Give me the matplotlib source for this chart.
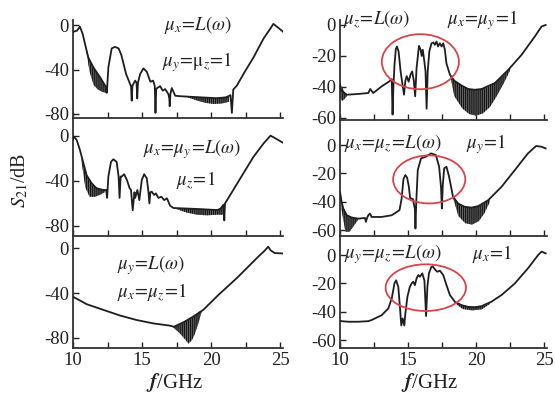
import matplotlib
matplotlib.use('Agg')
import matplotlib.pyplot as plt
from matplotlib.patches import Ellipse

plt.rcParams['font.family'] = ['Liberation Serif', 'DejaVu Serif']
plt.rcParams['mathtext.fontset'] = 'stix'
plt.rcParams['axes.unicode_minus'] = False
plt.rcParams['hatch.linewidth'] = 0.9

# ---- data (f in GHz, S21 in dB) ----
LT_f = [10.05, 10.3, 10.5, 10.7, 10.87, 11.1, 11.47, 11.96, 12.4, 12.45, 12.56, 12.8, 13.04, 13.3,
        13.5, 13.84, 14.13, 14.2, 14.25, 14.3, 14.37, 14.5, 14.6, 14.65, 14.7, 14.86, 15.1, 15.34,
        15.6, 15.8, 15.92, 15.97, 16.02, 16.06, 16.3, 16.5, 16.67, 16.9, 16.97, 17.0, 17.05, 17.15,
        17.4, 17.75, 19.2, 20.4, 21.1, 21.4, 21.5, 21.6, 21.86, 22.34, 23.07, 23.8, 24.3, 24.5,
        24.76, 25.2]
LT_s = [-6, -5, -1.5, -8, -17, -29, -38, -47, -56, -61, -38, -21, -19.7, -21,
        -27, -44, -53, -55, -68, -55, -53, -50, -52, -66, -52, -44, -39, -42,
        -51, -50, -55, -79, -58, -57, -55, -59, -57.6, -62, -66, -73, -62, -56.7,
        -63.6, -64, -65, -65.8, -65, -63, -79, -58, -54.5, -44, -29, -12, -3, 1,
        -1.5, -6]
LT_band = [([10.95, 11.2, 11.5, 11.8, 12.1, 12.4],
            [-20, -32, -39, -44, -50, -56],
            [-22, -42, -54, -58, -60, -61]),
           ([18.3, 19.0, 19.6, 20.2, 20.8, 21.3],
            [-64.6, -65, -65.4, -65.7, -65.3, -64],
            [-65, -68, -70, -71, -70.5, -69])]

LM_f = [10.0, 10.07, 10.27, 10.5, 10.75, 10.99, 11.35, 11.7, 12.2, 12.4, 12.47, 12.56, 12.75, 12.92,
        13.16, 13.3, 13.37, 13.45, 13.53, 13.7, 13.9, 14.1, 14.2, 14.32, 14.45, 14.5, 14.66, 14.8,
        14.98, 15.15, 15.34, 15.46, 15.53, 15.6, 15.7, 15.87, 16.0, 16.18, 16.4, 16.6, 16.8, 17.03,
        17.27, 19.2, 20.4, 20.65, 20.9, 20.95, 21.0, 21.1, 21.6, 22.34, 23.07, 23.8, 24.3, 24.64, 25.2]
LM_s = [-3, -0.6, -3.6, -12.4, -24, -35, -42, -46.5, -48, -48, -55, -36, -23, -20.7,
        -23, -36, -55, -36, -36, -34, -39, -46.5, -48, -66, -50, -55, -48, -57,
        -39, -34, -37.6, -49.5, -60, -50, -49.5, -52.4, -51, -55, -54, -57, -55.4, -62,
        -64, -65, -65.8, -65, -61, -75, -60, -58, -48, -33, -18.4, -6.5, 0.3, -2, -6]
LM_band = [([10.6, 10.9, 11.2, 11.6, 12.0, 12.3],
            [-19, -31, -40, -45, -47.5, -48],
            [-21, -46, -54, -54, -52, -50]),
           ([17.4, 18.2, 19.0, 19.7, 20.4, 20.85],
            [-64, -64.7, -65, -65.3, -65.8, -63],
            [-64.5, -68, -70, -70.5, -70, -70])]

LB_f = [10.0, 11.0, 12.2, 13.4, 14.6, 15.8, 17.0, 17.3, 18.0, 18.7, 19.43, 20.5, 21.86, 23.3,
        23.9, 24.13, 24.3, 24.6, 25.2]
LB_s = [-43.3, -50, -55, -60, -64, -67, -69, -70, -66, -61, -55, -42, -26.7, -9,
        -2, 1.2, -2, -4.5, -4.8]
LB_band = [([17.25, 17.7, 18.1, 18.36, 18.6, 18.8, 19.1, 19.3],
            [-70, -68.5, -65.5, -63.5, -62, -60.5, -57, -55.5],
            [-70.5, -75.5, -81, -85, -82, -77, -66, -57])]

RT_f = [10.0, 10.05, 10.5, 11.34, 12.08, 12.22, 12.44, 13.06, 13.6, 13.8, 13.86, 13.92, 14.0, 14.1,
        14.18, 14.3, 14.45, 14.56, 14.7, 14.8, 14.9, 15.04, 15.18, 15.3, 15.42, 15.52, 15.62, 15.8,
        15.92, 16.0, 16.08, 16.2, 16.28, 16.36, 16.44, 16.56, 16.72, 16.85, 16.97, 17.09, 17.2,
        17.33, 17.46, 17.58, 17.7, 17.82, 18.07, 18.4, 18.92, 19.4, 19.9, 20.4, 21.37, 22.35, 23.33,
        24.3, 24.8, 25.1]
RT_s = [-38, -42, -45, -44.5, -43.9, -41.3, -43.9, -39.6, -36.5, -35, -57.8, -40, -26, -15.5,
        -13.9, -17, -30, -36.6, -45, -36, -33, -36.6, -32, -30, -36, -46, -28, -13.5,
        -16, -20, -16, -24, -30, -54, -30, -17, -11.8, -11.3, -12.8, -10.7, -13.9,
        -11.8, -13.9, -11.8, -16, -25, -32, -36, -39, -41.3, -41.8, -41.3, -37.5, -29, -19.3,
        -7.5, -1, 0]
RT_band = [([10.0, 10.15, 10.3, 10.5],
            [-38, -40, -43, -45],
            [-47, -49, -48, -46]),
           ([18.1, 18.4, 19.0, 19.5, 20.0, 20.5, 21.0, 21.5, 22.0, 22.5],
            [-32.3, -36, -39.3, -41.2, -41.8, -41.3, -39.5, -36.5, -32.8, -27.8],
            [-33, -46, -54, -57.5, -58.5, -57, -53, -46, -38, -29])]

RM_f = [10.0, 10.12, 10.24, 10.5, 10.86, 11.34, 11.83, 11.9, 12.0, 12.08, 12.2, 12.32, 13.06, 13.8,
        14.37, 14.52, 14.66, 14.8, 14.93, 15.05, 15.15, 15.35, 15.5, 15.54, 15.6, 15.71, 15.95,
        16.31, 16.68, 17.04, 17.28, 17.42, 17.48, 17.55, 17.65, 17.82, 18.01, 18.3, 18.68, 19.17,
        19.66, 20.15, 20.88, 21.86, 22.84, 23.8, 24.4, 24.8, 25.1]
RM_s = [-33, -40, -44.7, -49.4, -51, -51.8, -51.3, -54, -51, -49.4, -48.2, -50.6, -50.6, -49.4,
        -45.8, -38, -24, -21.1, -23, -29, -37.3, -38, -45, -58.7, -40, -17.6, -9.4,
        -8.2, -5.9, -7, -15.3, -30, -44.6, -28, -16.4, -15.3, -22.3, -36.4, -41.2, -43.5,
        -44, -43, -38.8, -29.4, -17.6, -5.9, -0.7, -1.2, -2.4]
RM_band = [([10.1, 10.4, 10.7, 11.0, 11.3],
            [-39, -48, -50.5, -51.4, -51.8],
            [-45, -61, -61, -57, -53]),
           ([18.3, 18.7, 19.2, 19.7, 20.2, 20.6, 21.0],
            [-36.4, -41.2, -43.5, -44, -43, -41, -37.5],
            [-37, -50, -55, -56, -53.5, -48, -40])]

RB_f = [10.0, 10.6, 11.34, 12.08, 12.3, 13.06, 13.55, 13.8, 14.0, 14.12, 14.28, 14.4, 14.5, 14.6,
        14.72, 14.8, 14.95, 15.13, 15.26, 15.38, 15.5, 15.62, 15.75, 15.87, 16.04, 16.2, 16.32,
        16.42, 16.53, 16.7, 16.8, 16.97, 17.14, 17.33, 17.58, 17.82, 18.07, 18.44, 18.92, 19.4,
        19.9, 20.4, 21.1, 21.86, 22.84, 23.8, 24.55, 24.8, 25.1]
RB_s = [-46.5, -47, -47, -46.6, -45.9, -42.4, -37.6, -30.6, -20, -17.8, -22.4, -36.5, -49.6, -44.7,
        -49.6, -41.2, -29.4, -22.4, -20, -18.8, -21.2, -16.5, -14.1, -15.3, -12.9, -18, -43,
        -22, -13, -8.5, -8, -10.1, -11.8, -11, -14.1, -21.2, -28.2, -33, -35.3, -36.5,
        -36.8, -36, -33, -28.2, -20, -9.4, 0, 2.4, 1.2]
RB_band = [([18.4, 19.0, 19.7, 20.4, 21.0],
            [-32.7, -35.4, -36.6, -36, -33.2],
            [-33.5, -38, -39, -38.3, -34.5])]

x_ticks = [10, 12.5, 15, 17.5, 20, 22.5, 25]
x_labels = ['10', '', '15', '', '20', '', '25']
left_yticks = [0, -40, -80]
right_yticks = [0, -20, -40, -60]

# ellipses: (centre f, centre dB, width GHz, height dB)
RT_ell = (15.9, -23.7, 5.66, 35.5)
RM_ell = (16.55, -24.2, 5.3, 33.8)
RB_ell = (16.3, -23.0, 5.9, 32.9)

W, H = 555, 397
fig = plt.figure(figsize=(W / 100, H / 100), dpi=100)


def px_rect(x0, x1, ytop, ybot):
    return [x0 / W, 1 - ybot / H, (x1 - x0) / W, (ybot - ytop) / H]


panels = [
    # f, s, bands, rect, ylim, yticks, bottom labels, ellipse
    (LT_f, LT_s, LT_band, px_rect(73, 283, 20, 118), (-83.6, 4.5), left_yticks, False, None),
    (LM_f, LM_s, LM_band, px_rect(73, 283, 118, 236), (-88.9, 16), left_yticks, False, None),
    (LB_f, LB_s, LB_band, px_rect(73, 283, 236, 348), (-88.9, 10.7), left_yticks, True, None),
    (RT_f, RT_s, RT_band, px_rect(340, 547, 20, 120), (-61.3, 3.2), right_yticks, False, RT_ell),
    (RM_f, RM_s, RM_band, px_rect(340, 547, 120, 236), (-64, 17.6), right_yticks, False, RM_ell),
    (RB_f, RB_s, RB_band, px_rect(340, 547, 236, 348), (-65.5, 13.4), right_yticks, True, RB_ell),
]

line_c = '#1e1e1e'
for f, s, bands, rect, ylim, yt, lab, ell in panels:
    ax = fig.add_axes(rect)
    ax.set_facecolor('none')
    for bf, bt, bb in bands:
        # dense ripple drawn as a hatched band
        ax.fill_between(bf, bt, bb, facecolor='#6e6e6e', edgecolor='#151515',
                        hatch='||||||||', lw=0.0, zorder=2)
    ax.plot(f, s, color=line_c, lw=1.3, zorder=3)
    if ell is not None:
        ax.add_patch(Ellipse((ell[0], ell[1]), ell[2], ell[3], fill=False,
                             edgecolor='#d9444a', lw=1.3, zorder=4))
    ax.set_xlim(10, 25.2)
    ax.set_ylim(*ylim)
    ax.set_xticks(x_ticks)
    ax.set_xticklabels(x_labels)
    ax.set_yticks(yt)
    ax.set_yticklabels([str(v) for v in yt])
    ax.tick_params(direction='in', length=4, width=1, labelsize=13.5, pad=3,
                   colors='#222222', labelbottom=lab)
    for side in ('top', 'right'):
        ax.spines[side].set_visible(False)
    for side in ('left', 'bottom'):
        ax.spines[side].set_linewidth(1.3)
        ax.spines[side].set_color('#333333')

# annotations (pixel positions)
notes = [
    (198, 25, r'$\mu_x\!=\!L(\omega)$'),
    (197, 62, r'$\mu_y\!=\!\mathrm{\mu}_z\!=\!1$'),
    (192, 149, r'$\mu_x\!=\!\mu_y\!=\!L(\omega)$'),
    (196, 181, r'$\mu_z\!=\!1$'),
    (151, 265, r'$\mu_y\!=\!L(\omega)$'),
    (152, 293, r'$\mu_x\!=\!\mu_z\!=\!1$'),
    (377, 20, r'$\mu_z\!=\!L(\omega)$'),
    (482, 20, r'$\mu_x\!=\!\mu_y\!=\!1$'),
    (393, 144, r'$\mu_x\!=\!\mu_z\!=\!L(\omega)$'),
    (486, 144, r'$\mu_y\!=\!1$'),
    (393, 254, r'$\mu_y\!=\!\mu_z\!=\!L(\omega)$'),
    (492, 254, r'$\mu_x\!=\!1$'),
]
for x, y, t in notes:
    fig.text(x / W, 1 - y / H, t, fontsize=13.5, ha='center', va='center', color='#222222')

fig.text(20 / W, 1 - 180 / H, r'$S_{21}$/dB', fontsize=14.5, rotation=90,
         ha='center', va='center', color='#222222')
for x in (175, 430):
    fig.text(x / W, 1 - 382 / H, r'$\mathbfit{f}$/GHz', fontsize=15,
             ha='center', va='center', color='#222222')

fig.savefig('out.png', dpi=100)
